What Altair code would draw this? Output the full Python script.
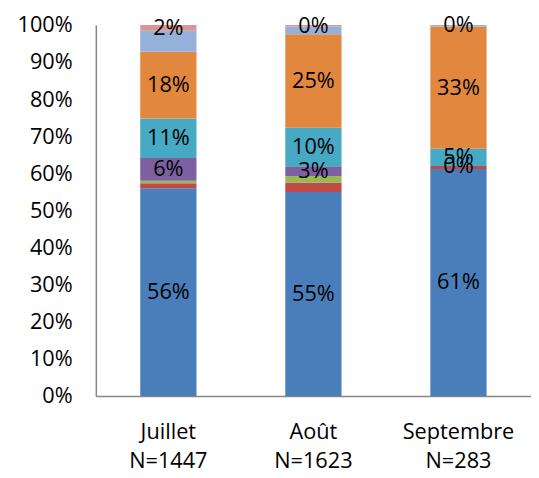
import altair as alt
import pandas as pd

months = ["Juillet\nN=1447", "Août\nN=1623", "Septembre\nN=283"]
series = ["s1", "s2", "s3", "s4", "s5", "s6", "s7", "s8"]
colors = ["#4A7EBB", "#BE4B48", "#98B954", "#7D60A0", "#46AAC5", "#E2883E", "#95B1D9", "#D99694"]
labeled = [True, False, False, True, True, True, False, True]
y_ticks = [0.0, 0.1, 0.2, 0.3, 0.4, 0.5, 0.6, 0.7, 0.8, 0.9, 1.0]

# percentages per series (bottom to top), per month
values = {
    "Juillet\nN=1447":   [56.0, 1.3, 0.7, 6.1, 10.7, 18.0, 5.6, 1.6],
    "Août\nN=1623":      [55.0, 2.5, 1.8, 2.6, 10.4, 25.2, 2.1, 0.4],
    "Septembre\nN=283":  [61.2, 0.8, 0.0, 0.0, 4.6, 33.0, 0.4, 0.0],
}

rows = []
for m in months:
    cum = 0.0
    for i, s in enumerate(series):
        v = values[m][i]
        rows.append({
            "month": m, "series": s, "order": i, "value": v,
            "y0": cum / 100, "y1": (cum + v) / 100, "mid": (cum + v / 2) / 100,
            "label": f"{round(v):d}%", "show": labeled[i],
        })
        cum += v
df = pd.DataFrame(rows)

FONT = "Open Sans"
FS = 22

x_axis = alt.Axis(labelExpr="split(datum.label, '\\n')", labelAngle=0,
                  ticks=False, domainColor="#868686", domainWidth=1.5,
                  labelFont=FONT, labelFontSize=FS, labelColor="#000000",
                  labelPadding=26, labelLineHeight=30, labelOverlap=False)
y_axis = alt.Axis(format=".0%", values=y_ticks, tickCount=11,
                  ticks=False, grid=False, domainColor="#868686",
                  domainWidth=1.5, labelFont=FONT, labelFontSize=FS,
                  labelColor="#000000", labelPadding=24,
                  labelOverlap=False, labelBound=False, labelFlush=False)
x_scale = alt.Scale(paddingInner=0, paddingOuter=0)
y_scale = alt.Scale(domain=[0, 1], nice=False)

bars = alt.Chart(df).mark_bar(size=57).encode(
    x=alt.X("month:N", sort=months, title=None, scale=x_scale, axis=x_axis),
    y=alt.Y("y0:Q", title=None, scale=y_scale, axis=y_axis),
    y2="y1:Q",
    color=alt.Color("series:N", scale=alt.Scale(domain=series, range=colors), legend=None),
)

texts = alt.Chart(df).transform_filter("datum.show").mark_text(
    font=FONT, fontSize=FS, color="#000000", baseline="middle", align="center"
).encode(
    x=alt.X("month:N", sort=months, title=None, scale=x_scale, axis=x_axis),
    y=alt.Y("mid:Q", title=None, scale=y_scale, axis=y_axis),
    text="label:N",
)

chart = (bars + texts).properties(
    width=441, height=376,
    background="#ffffff",
    padding={"left": 89, "top": 14, "right": 0, "bottom": 80},
    autosize=alt.AutoSizeParams(type="none"),
).configure_view(stroke=None)

chart.save("out.html", embed_options={"renderer": "svg", "actions": False})
